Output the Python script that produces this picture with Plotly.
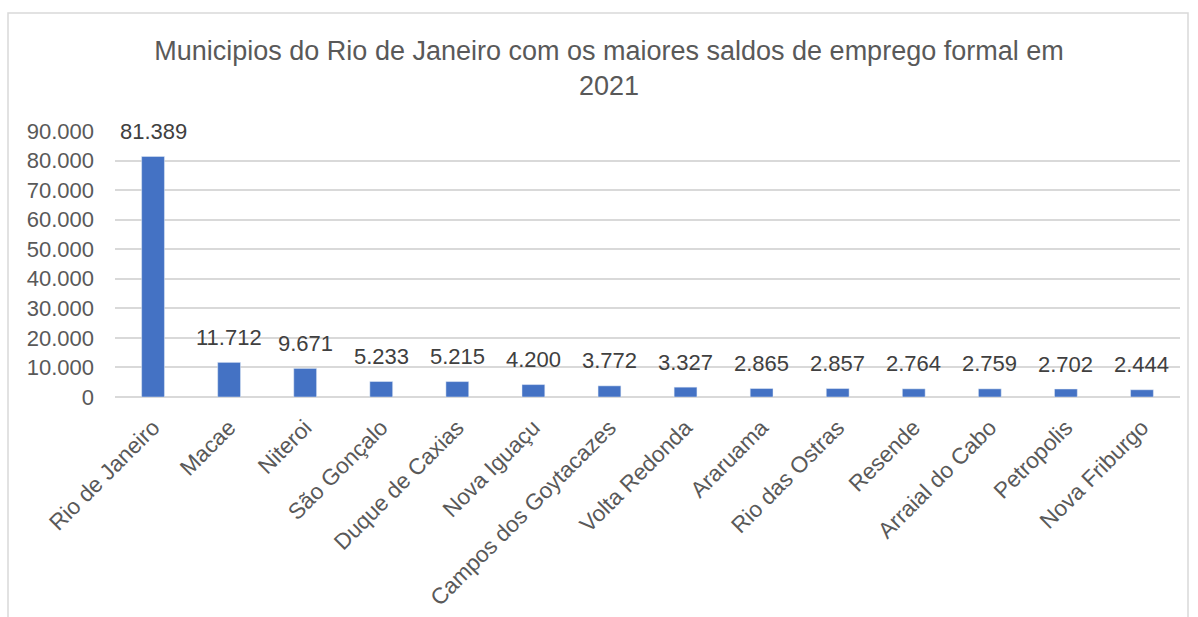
import plotly.graph_objects as go

municipios = ["Rio de Janeiro", "Macae", "Niteroi", "São Gonçalo", "Duque de Caxias",
              "Nova Iguaçu", "Campos dos Goytacazes", "Volta Redonda", "Araruama",
              "Rio das Ostras", "Resende", "Arraial do Cabo", "Petropolis", "Nova Friburgo"]
saldos = [81389, 11712, 9671, 5233, 5215, 4200, 3772, 3327, 2865, 2857, 2764, 2759, 2702, 2444]
y_ticks = [0, 10000, 20000, 30000, 40000, 50000, 60000, 70000, 80000, 90000]

def fmt(v):
    return f"{v:,}".replace(",", ".")

FONT = "Liberation Sans, Arial"

fig = go.Figure(go.Bar(
    x=municipios, y=saldos, marker_color="#4472C4", width=0.30,
))

for m, v in zip(municipios, saldos):
    fig.add_annotation(x=m, y=v, text=fmt(v), showarrow=False, yshift=25,
                       yanchor="middle", xanchor="center",
                       font=dict(family=FONT, size=22, color="#404040"))

W, H = 1198, 617
L, R, T, B = 115, 18, 131, 220
pw, ph = W - L - R, H - T - B

fig.update_layout(
    width=W, height=H,
    paper_bgcolor="white", plot_bgcolor="white",
    margin=dict(l=L, r=R, t=T, b=B),
    title=dict(text="Municipios do Rio de Janeiro com os maiores saldos de emprego formal em<br>2021",
               x=609 / W, xanchor="center", xref="container", y=1 - 60 / H, yanchor="top",
               font=dict(family=FONT, size=27, color="#595959")),
    showlegend=False,
    font=dict(family=FONT, color="#595959"),
)
fig.update_yaxes(range=[0, 90000], tickvals=y_ticks, ticktext=[fmt(v) for v in y_ticks],
                 showgrid=True, gridcolor="#d9d9d9", gridwidth=1.5,
                 zeroline=True, zerolinecolor="#d9d9d9", zerolinewidth=1.5,
                 tickfont=dict(size=22, color="#595959"), ticks="", showline=False,
                 ticklabelstandoff=20, automargin=False)
fig.update_xaxes(tickangle=-45, tickfont=dict(size=22.5, color="#595959"), showline=False, ticks="",
                 ticklabelstandoff=12, automargin=False)

fig.add_shape(type="rect", xref="paper", yref="paper",
              x0=(8 - L) / pw, x1=(1188 - L) / pw, y0=-2.0, y1=(H - B - 13) / ph,
              line=dict(color="#d9d9d9", width=1.5), fillcolor="rgba(0,0,0,0)", layer="below")

fig.write_html("out.html", config={"displayModeBar": False},
               post_script="document.body.style.margin='0px';document.body.style.overflow='hidden';")
